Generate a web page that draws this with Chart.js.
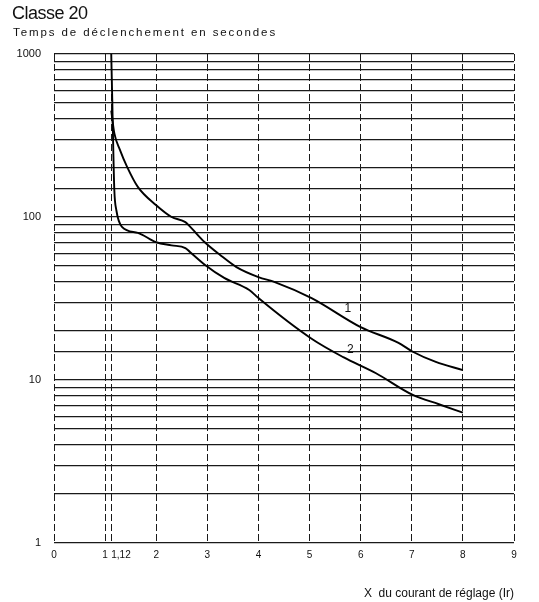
<!DOCTYPE html>
<html>
<head>
<meta charset="utf-8">
<script src="https://cdn.jsdelivr.net/npm/chart.js@4.4.1/dist/chart.umd.min.js"></script>
<style>
  html, body { margin: 0; padding: 0; background: #fff; }
  #wrap { position: relative; width: 539px; height: 602px; }
  canvas { position: absolute; left: 0; top: 0; }
  #title { position: absolute; left: 12px; top: 3px; font: 18px 'Liberation Sans', Arial, sans-serif; letter-spacing: -0.5px; color: #111; }
  #subtitle { position: absolute; left: 13px; top: 26px; font: 11.5px 'Liberation Sans', Arial, sans-serif; letter-spacing: 1.9px; color: #111; white-space: nowrap; }
</style>
</head>
<body>
<div id="wrap">
  <canvas id="chart" width="539" height="602"></canvas>
  <div id="title">Classe 20</div>
  <div id="subtitle">Temps de déclenchement en secondes</div>
</div>
<script>
// x axis: multiples of the setting current
const xTicks = [0, 1, 1.12, 2, 3, 4, 5, 6, 7, 8, 9];
const xTickLabels = ['0', '1', '1,12', '2', '3', '4', '5', '6', '7', '8', '9'];
// y axis: only the decades get a label
const yLabels = [1, 10, 100, 1000];

// curve 1
const curve1X = [1.12, 1.18, 1.29, 1.43, 1.64, 2.0, 2.3, 2.57, 2.68, 2.95, 3.25, 3.57, 4.0, 4.32, 5.04, 6.0, 6.74, 7.02, 7.47, 8.0];
const curve1Y = [450, 327, 258, 203, 153, 118, 100, 93, 86, 70, 58.5, 49.3, 42.8, 39.9, 31.8, 21.1, 16.9, 14.9, 12.9, 11.5];

// curve 2
const curve2X = [1.12, 1.14, 1.16, 1.18, 1.22, 1.33, 1.64, 2.0, 2.3, 2.57, 2.66, 2.95, 3.33, 3.82, 4.0, 5.04, 5.66, 6.3, 7.02, 7.53, 8.0];
const curve2Y = [1000, 522, 258, 147, 110, 87, 80, 70, 67, 64.5, 61, 51, 42.3, 35.7, 31.8, 17.9, 13.8, 11.0, 8.1, 7.1, 6.3];

// curve names written next to the lines
const curveNames = ['1', '2'];
const curveNameX = [5.75, 5.8];
const curveNameY = [27.5, 15.3];

const toPoints = (xs, ys) => xs.map((x, i) => ({ x: x, y: ys[i] }));

const curveLabels = {
  id: 'curveLabels',
  afterDatasetsDraw(chart) {
    const { ctx, scales: { x, y } } = chart;
    ctx.save();
    ctx.font = "12px 'Liberation Sans', Arial, sans-serif";
    ctx.fillStyle = '#111';
    ctx.textAlign = 'center';
    ctx.textBaseline = 'middle';
    curveNames.forEach((name, i) => {
      ctx.fillText(name, x.getPixelForValue(curveNameX[i]), y.getPixelForValue(curveNameY[i]));
    });
    ctx.restore();
  }
};

const lineStyle = {
  borderColor: '#000',
  borderWidth: 1.9,
  pointRadius: 0,
  fill: false,
  tension: 0.4,
  cubicInterpolationMode: 'monotone'
};

new Chart(document.getElementById('chart'), {
  type: 'line',
  data: {
    datasets: [
      Object.assign({ label: '1', data: toPoints(curve1X, curve1Y) }, lineStyle),
      Object.assign({ label: '2', data: toPoints(curve2X, curve2Y) }, lineStyle)
    ]
  },
  options: {
    responsive: false,
    animation: false,
    layout: { padding: { top: 54, right: 25, left: 0, bottom: 0 } },
    plugins: {
      legend: { display: false },
      tooltip: { enabled: false }
    },
    scales: {
      x: {
        type: 'linear',
        min: 0,
        max: 9,
        afterBuildTicks: s => { s.ticks = xTicks.map(v => ({ value: v })); },
        afterFit: s => { s.height = 59; },
        grid: { color: '#1a1a1a', lineWidth: 1, drawTicks: false },
        border: { display: false, dash: [7, 3] },
        ticks: {
          autoSkip: false,
          maxRotation: 0,
          padding: 6,
          color: '#111',
          font: { family: "'Liberation Sans', Arial, sans-serif", size: 10 },
          // push "1,12" to the right of its line so it clears "1"
          callback: (v, i) => xTickLabels[i] === '1,12' ? ' '.repeat(7) + xTickLabels[i] : xTickLabels[i]
        },
        title: {
          display: true,
          text: 'X  du courant de réglage (Ir)',
          align: 'end',
          color: '#111',
          font: { family: "'Liberation Sans', Arial, sans-serif", size: 12 },
          padding: { top: 0, bottom: 1 }
        }
      },
      y: {
        type: 'logarithmic',
        min: 1,
        max: 1000,
        afterFit: s => { s.width = 54; },
        grid: { color: '#1a1a1a', lineWidth: 1.2, drawTicks: false },
        border: { display: false },
        ticks: {
          autoSkip: false,
          padding: 13,
          color: '#111',
          font: { family: "'Liberation Sans', Arial, sans-serif", size: 11 },
          callback: v => yLabels.includes(v) ? String(v) : ''
        }
      }
    }
  },
  plugins: [curveLabels]
});
</script>
</body>
</html>
